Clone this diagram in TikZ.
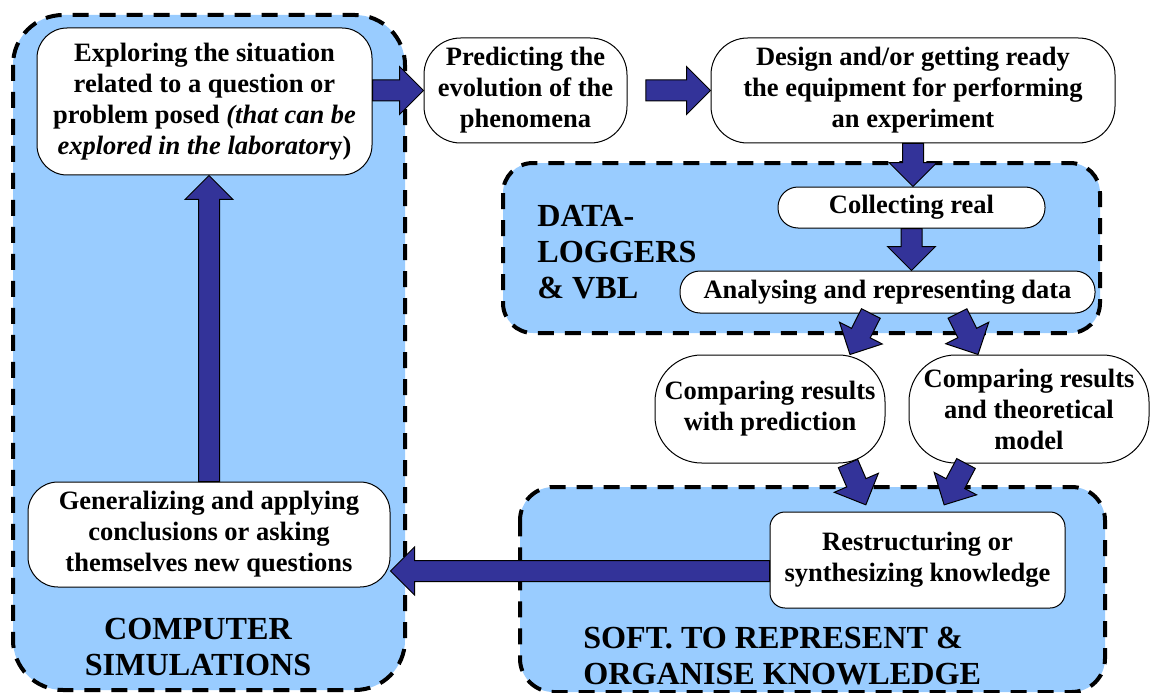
\documentclass[tikz,border=0pt]{standalone}
\usepackage{fontspec}
\setmainfont{Liberation Serif}
\usetikzlibrary{calc,positioning}
\definecolor{zoneblue}{HTML}{99CCFF}
\definecolor{arrowblue}{HTML}{333399}

\begin{document}
\begin{tikzpicture}[x=0.6pt,y=-0.6pt]
  \tikzstyle{zone}=[fill=zoneblue, draw=black, line width=2.4pt, dash pattern=on 9.6pt off 6.6pt]
  \tikzstyle{stage}=[draw, fill=white, line width=0.6pt, align=center, inner sep=0pt,
font=\fontsize{15.9}{18.6}\selectfont\bfseries]
  \tikzstyle{zonetitle}=[inner sep=0pt, font=\fontsize{19.3}{21.5}\selectfont\bfseries]
  \tikzstyle{blockarrow}=[draw=black, line width=0.6pt, fill=arrowblue, line join=miter,
to path={let \p1=(\tikztostart), \p2=(\tikztotarget),
  \n1={atan2(\y2-\y1,\x2-\x1)}, \n2={veclen(\x2-\x1,\y2-\y1)} in
  ($(\p1)+(\n1+90:6.3pt)$) -- ($(\p1)+(\n1:{\n2-14.4pt})+(\n1+90:6.3pt)$)
  -- ($(\p1)+(\n1:{\n2-14.4pt})+(\n1+90:14.4pt)$) -- (\p2)
  -- ($(\p1)+(\n1:{\n2-14.4pt})+(\n1-90:14.4pt)$)
  -- ($(\p1)+(\n1:{\n2-14.4pt})+(\n1-90:6.3pt)$) -- ($(\p1)+(\n1-90:6.3pt)$) -- cycle}]

  \useasboundingbox (0,0) rectangle (1150,693);

  \draw[zone, rounded corners=30pt] (13,15) rectangle (405,690);
  \draw[zone, rounded corners=18pt] (503,163) rectangle (1100,333);
  \draw[zone, rounded corners=20pt] (520,487) rectangle (1105,692);

  \node[zonetitle, align=left, anchor=west] (loggers) at (537,252) {DATA-\\LOGGERS\\\& VBL};
  \node[zonetitle, align=center] (simul) at (198,647) {COMPUTER\\SIMULATIONS};
  \node[zonetitle, align=left, anchor=west] (soft) at (583,656) {SOFT. TO REPRESENT \&\\ORGANISE KNOWLEDGE};

  \node[stage, minimum width=201pt, minimum height=88.2pt, rounded corners=18pt] (explore) at (204.5,101.5)
{Exploring the situation\\related to a question or\\problem posed \textit{(that can be}\\\textit{explored in the laborator}y)};
  \node[stage, minimum width=121.8pt, minimum height=63pt, rounded corners=22pt] (predict) at (525.5,90.5)
{Predicting the\\evolution of the\\phenomena};
  \node[stage, minimum width=242.4pt, minimum height=63pt, rounded corners=22pt] (design) at (913,90.5)
{Design and/or getting ready\\the equipment for performing\\an experiment};
  \node[stage, minimum width=160.2pt, minimum height=24.6pt, rounded corners=12pt] (collect) at (911.5,207.5)
{Collecting real};
  \node[stage, minimum width=249pt, minimum height=25.2pt, rounded corners=12pt] (analyse) at (887.5,292)
{Analysing and representing data};
  \node[stage, minimum width=138pt, minimum height=64.8pt, rounded corners=28pt] (cmpP) at (770,409)
{Comparing results\\with prediction};
  \node[stage, minimum width=144pt, minimum height=64.8pt, rounded corners=28pt] (cmpT) at (1029,409)
{Comparing results\\and theoretical\\model};
  \node[stage, minimum width=177pt, minimum height=57.6pt, rounded corners=9pt] (restruct) at (917.5,560)
{Restructuring or\\synthesizing knowledge};
  \node[stage, minimum width=217.2pt, minimum height=63pt, rounded corners=18pt] (general) at (209,534.5)
{Generalizing and applying\\conclusions or asking\\themselves new questions};

  \coordinate (back) at ($(restruct.west)+(0,11)$);

  \draw[blockarrow] (explore.east |- predict.west) to (predict.west);
  \draw[blockarrow] ([xshift=11pt]predict.east) to (design.west);
  \draw[blockarrow] (design.south) to (design.south |- collect.north);
  \draw[blockarrow] (collect.south) to (collect.south |- analyse.north);
  \draw[blockarrow] ([xshift=-10pt]analyse.south) to ([xshift=48pt]cmpP.north);
  \draw[blockarrow] ([xshift=42pt]analyse.south) to ([xshift=-30.6pt]cmpT.north);
  \draw[blockarrow] ([xshift=46.8pt]cmpP.south) to ([xshift=-31pt,yshift=4pt]restruct.north);
  \draw[blockarrow] ([xshift=-37.8pt]cmpT.south) to ([xshift=16pt,yshift=4pt]restruct.north);
  \draw[blockarrow] (back) to (general.east |- back);
  \draw[blockarrow] (general.north) to (general.north |- explore.south);
\end{tikzpicture}
\end{document}
